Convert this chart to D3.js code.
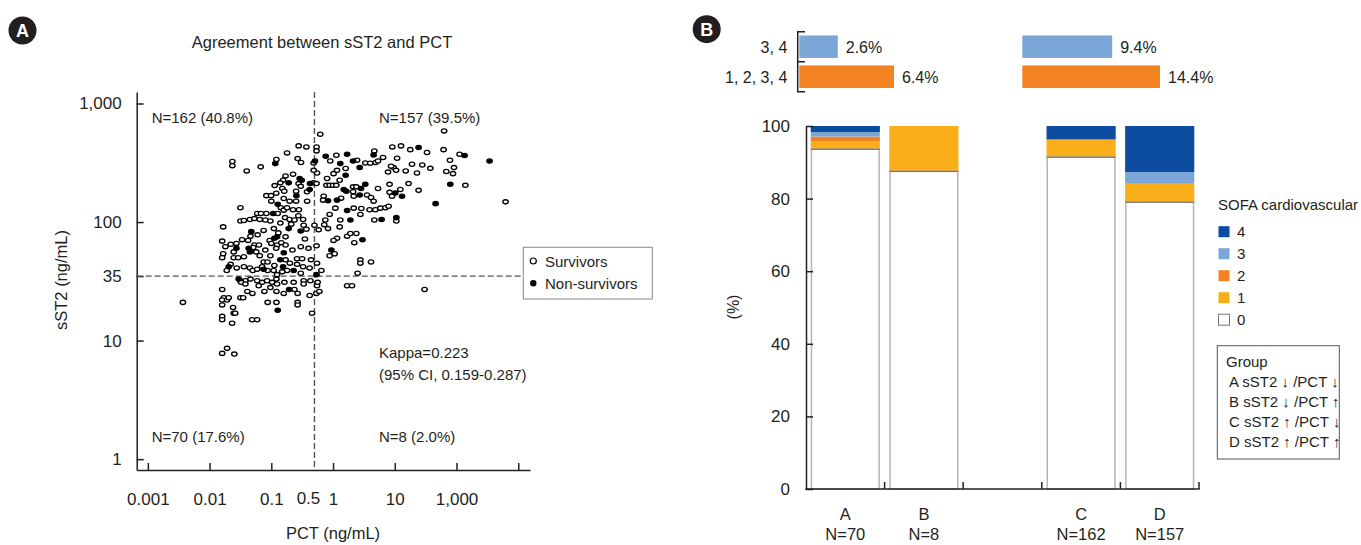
<!DOCTYPE html>
<html>
<head>
<meta charset="utf-8">
<script src="https://cdnjs.cloudflare.com/ajax/libs/d3/7.8.5/d3.min.js"></script>
<style>
  body { margin: 0; background: #fff; }
  svg text { font-family: "Liberation Sans", Arial, sans-serif; fill: #231f20; }
</style>
</head>
<body>
<svg id="chart" width="1361" height="545"></svg>
<script>
"use strict";

// ---- panel A data: [PCT ng/mL, sST2 ng/mL] ----
var survivors = [
  // sST2 high / PCT high
  [0.62,550],[63,587],[0.54,430],[0.54,398],[1.13,366],[4.66,398],[6.45,350],[9.12,430],[12.6,439],[17.8,408],[33.3,386],[61.7,408],[112,373],
  [0.90,327],[2.45,332],[3.33,315],[4.0,313],[4.89,318],[5.35,327],[10.9,345],[9.57,288],[8.7,296],[10.5,273],[7.77,264],[15.0,270],[19.0,307],[22.9,259],[27.9,303],[37.6,284],[68.3,267],[78.3,332],[91,288],[87.7,256],[139,204],[623,148],
  [0.485,315],[0.55,259],[0.485,273],[0.485,214],[0.54,211],[0.80,233],[0.78,204],[0.88,204],[1.0,204],[1.13,204],[1.28,225],[1.60,283],[1.02,256],[1.16,273],
  [2.11,198],[2.38,198],[2.11,180],[2.16,165],[3.55,169],[4.12,161],[4.54,150],[5.35,192],[8.24,208],[8.24,178],[9.02,165],[12.3,188],[16.7,211],[24.3,185],
  [0.705,165],[0.69,153],[1.35,159],[1.09,131],[2.16,131],[2.77,116],[2.87,130],[1.31,104],[1.28,91],[0.88,116],[0.75,104],[0.72,95],[0.83,88],[0.585,86],[0.50,94],
  [3.91,127],[4.84,127],[5.84,131],[7.03,132],[7.94,136],[4.66,104],[10.6,102],
  [2.21,67],[1.69,76],[1.91,80],[2.38,80],[1.16,73],[1.02,70],[0.88,52],[1.06,54],[2.77,48],[2.77,45],[4.12,46],[2.50,37],[0.647,39],[0.55,45],[0.54,63],
  // sST2 high / PCT low
  [0.277,439],[0.37,430],[0.18,383],[0.121,337],[0.267,343],[0.303,318],[0.0234,324],[0.0234,299],[0.040,270],[0.0673,292],
  [0.225,253],[0.17,245],[0.155,225],[0.140,214],[0.277,211],[0.1135,203],[0.151,192],[0.162,182],[0.252,182],[0.379,180],
  [0.0832,167],[0.099,167],[0.159,158],[0.198,150],[0.252,150],[0.143,132],[0.159,126],[0.18,132],[0.225,127],[0.28,127],
  [0.0316,132],[0.059,118],[0.068,118],[0.0832,118],[0.127,118],[0.167,109],[0.198,105],[0.237,104],[0.274,113],[0.327,105],[0.334,94],[0.37,87],
  [0.0166,91],[0.0316,102],[0.036,103],[0.045,105],[0.0532,107],[0.065,105],[0.080,104],[0.0966,102],
  [0.016,69],[0.018,62],[0.022,65],[0.0272,66],[0.0336,71],[0.042,70],[0.046,76],[0.0532,64],[0.063,64],[0.094,70],[0.13,81],[0.17,75],[0.124,64],[0.145,67],[0.17,64],
  [0.0166,54],[0.016,50],[0.0246,56],[0.0246,50],[0.029,50],[0.036,51],[0.051,61],[0.057,56],[0.065,52],[0.080,58],[0.0966,52],[0.0752,46],[0.087,46],[0.112,43],[0.17,48],[0.261,49],[0.315,49],[0.261,44],[0.327,42],[0.18,39],[0.15,38],
  [0.019,39],[0.0275,41],[0.036,42],[0.045,41],[0.050,39],[0.059,40],[0.071,42],[0.0873,39],[0.109,39],[0.124,36],[0.418,41],[0.44,48],
  [0.22,58],[0.30,62],[0.35,72],[0.40,60],[0.21,96],[0.14,98],[0.11,88],[0.075,85],[0.06,78],[0.10,150],[0.12,175],[0.30,200],[0.38,150],[0.12,60],[0.10,66],[0.30,37],[0.20,45],[0.022,44],
  // sST2 low / PCT low
  [0.0316,32],[0.038,32],[0.046,33],[0.059,32],[0.071,31],[0.0855,32],[0.103,31],[0.121,33],[0.0324,31],[0.038,30],[0.0625,29],[0.0966,28],[0.124,30],[0.163,31],[0.23,31],[0.334,32],[0.429,32],[0.334,30],
  [0.041,26],[0.0494,25],[0.0772,26],[0.121,26],[0.159,25],[0.237,27],[0.267,25],
  [0.016,27],[0.017,23],[0.016,22],[0.0192,22],[0.0204,23],[0.016,20],[0.024,19],[0.0246,17],[0.026,17],[0.0232,14],[0.016,16],[0.016,15],[0.0316,23],[0.035,23],[0.0489,15],[0.0589,15],[0.0873,21],[0.121,21],[0.267,21],[0.267,20],[0.418,24],[0.457,17],[0.0037,21],[0.016,7.8],[0.0192,8.6],[0.0252,7.7],
  // sST2 low / PCT high
  [0.55,29],[0.563,31],[0.537,25],[1.69,29],[2.03,29],[30.4,27],[0.6,26]
];

var nonSurvivors = [
  [0.76,359],[1.69,373],[4.54,368],[24.3,425],[135,364],[343,327],[0.51,327],[1.31,311],[2.11,327],[2.70,288],[1.60,248],[1.49,188],[1.64,182],[2.84,192],[3.33,208],[2.70,169],[10.2,176],[13.1,165],[0.83,151],[1.16,153],[1.69,125],[1.91,104],[6.12,105],[10.6,109],[3.0,71],[0.94,58],[0.54,36],[79.3,208],[45.8,143],
  [0.116,311],[0.288,233],[0.31,225],[0.191,214],[0.424,211],[0.255,167],[0.418,188],[0.127,141],[0.107,118],[0.191,88],[0.30,84],[0.0475,83],[0.112,73],[0.124,75],[0.0272,60],[0.043,60],[0.045,56],[0.140,48],[0.159,55],[0.155,42],[0.230,39],[0.075,40],[0.0204,42],
  [0.0296,33],[0.194,27],[0.127,18]
];

var pctTicks = [0.001, 0.01, 0.1, 1, 10, 100, 1000];
var pctTickLabels = ["0.001", "0.01", "0.1", "1", "10", "1,000", ""];
var sstTicks = [1, 10, 35, 100, 1000];
var sstTickLabels = ["1", "10", "35", "100", "1,000"];
var pctCutoff = 0.5;
var sstCutoff = 35;

// ---- panel B data ----
var groups = ["A", "B", "C", "D"];
var groupN = [70, 8, 162, 157];
var sofa0 = [93.6, 87.5, 91.4, 79.0];
var sofa1 = [2.1, 12.5, 4.9, 5.1];
var sofa2 = [1.4, 0, 0, 0];
var sofa3 = [1.2, 0, 0, 3.2];
var sofa4 = [1.7, 0, 3.7, 12.7];
var pctTicksB = [0, 20, 40, 60, 80, 100];

var topRows = ["3, 4", "1, 2, 3, 4"];
var topLow = [2.6, 6.4];    // groups A + B
var topHigh = [9.4, 14.4];  // groups C + D

var sofaKeys = ["s0", "s1", "s2", "s3", "s4"];
var sofaColors = { s0: "#ffffff", s1: "#f9ae1a", s2: "#f28222", s3: "#7ba6d8", s4: "#0d4da0" };
var legendRows = [["s4", "4"], ["s3", "3"], ["s2", "2"], ["s1", "1"], ["s0", "0"]];
var groupLegend = ["A sST2 \u2193 /PCT \u2193", "B sST2 \u2193 /PCT \u2191", "C sST2 \u2191 /PCT \u2193", "D sST2 \u2191 /PCT \u2191"];

var svg = d3.select("#chart");
var ink = "#231f20";

function badge(cx, cy, letter) {
  svg.append("circle").attr("cx", cx).attr("cy", cy).attr("r", 14).attr("fill", ink);
  svg.append("text").attr("x", cx).attr("y", cy + 6.5).attr("text-anchor", "middle")
    .style("fill", "#fff").style("font-weight", "bold").style("font-size", "18px").text(letter);
}

// ================= Panel A =================
badge(22.5, 30.5, "A");

svg.append("text").attr("x", 322).attr("y", 48).attr("text-anchor", "middle")
  .style("font-size", "16.5px").text("Agreement between sST2 and PCT");

var x = d3.scaleLog().domain([0.00066, 1550]).range([136.7, 530]);
var y = d3.scaleLog().domain([0.81, 1250]).range([470, 92]);

var gx = svg.append("g")
  .attr("transform", "translate(0,470)")
  .call(d3.axisBottom(x).tickValues(pctTicks)
    .tickFormat(function(d, i) { return pctTickLabels[i]; })
    .tickSize(-7).tickSizeOuter(0).tickPadding(23));

var gy = svg.append("g")
  .attr("transform", "translate(136.7,0)")
  .call(d3.axisLeft(y).tickValues(sstTicks)
    .tickFormat(function(d, i) { return sstTickLabels[i]; })
    .tickSize(-7).tickSizeOuter(0).tickPadding(15));

[gx, gy].forEach(function(g) {
  g.attr("font-family", null).attr("font-size", null);
  g.selectAll("path, line").attr("stroke", ink).attr("stroke-width", 1.5);
  g.selectAll("text").style("font-size", "17px").attr("fill", null);
});

// extra "0.5" label for the cut-off
svg.append("text").attr("x", x(pctCutoff) - 6).attr("y", 504).attr("text-anchor", "middle")
  .style("font-size", "17px").text("0.5");

// cut-off lines
svg.append("line")
  .attr("x1", x(pctCutoff)).attr("x2", x(pctCutoff))
  .attr("y1", y(1250)).attr("y2", y(0.81))
  .attr("stroke", "#555").attr("stroke-width", 1.4).attr("stroke-dasharray", "6,3");
svg.append("line")
  .attr("x1", x(0.00066)).attr("x2", 523)
  .attr("y1", y(sstCutoff)).attr("y2", y(sstCutoff))
  .attr("stroke", "#555").attr("stroke-width", 1.4).attr("stroke-dasharray", "6,3");

// points
function drawPoints(data, fill) {
  svg.append("g").selectAll("ellipse")
    .data(data)
    .enter().append("ellipse")
    .attr("cx", function(d) { return x(d[0]); })
    .attr("cy", function(d) { return y(d[1]); })
    .attr("rx", 2.7).attr("ry", 2.1)
    .attr("fill", fill).attr("stroke", "#000").attr("stroke-width", 1.35);
}
drawPoints(survivors, "#fff");
drawPoints(nonSurvivors, "#000");

// quadrant notes
var notes = [
  [151.7, 123, "N=162 (40.8%)"], [379, 123, "N=157 (39.5%)"],
  [379, 358, "Kappa=0.223"], [379, 380, "(95% CI, 0.159-0.287)"],
  [151.7, 442, "N=70 (17.6%)"], [379, 442, "N=8 (2.0%)"]
];
svg.append("g").selectAll("text").data(notes).enter().append("text")
  .attr("x", function(d) { return d[0]; }).attr("y", function(d) { return d[1]; })
  .style("font-size", "15px").text(function(d) { return d[2]; });

// axis titles
svg.append("text").attr("x", 333).attr("y", 539).attr("text-anchor", "middle")
  .style("font-size", "16.5px").text("PCT (ng/mL)");
svg.append("text").attr("transform", "translate(67,280) rotate(-90)").attr("text-anchor", "middle")
  .style("font-size", "16.5px").text("sST2 (ng/mL)");

// legend
var lg = svg.append("g");
lg.append("rect").attr("x", 523.3).attr("y", 247.3).attr("width", 129).attr("height", 51.7)
  .attr("fill", "#fff").attr("stroke", "#888").attr("stroke-width", 1);
lg.append("ellipse").attr("cx", 533.3).attr("cy", 261).attr("rx", 3).attr("ry", 3)
  .attr("fill", "#fff").attr("stroke", "#000").attr("stroke-width", 1.2);
lg.append("ellipse").attr("cx", 533.3).attr("cy", 283.3).attr("rx", 3.2).attr("ry", 3.2)
  .attr("fill", "#000");
lg.append("text").attr("x", 545).attr("y", 266.7).style("font-size", "15px").text("Survivors");
lg.append("text").attr("x", 545).attr("y", 289).style("font-size", "15px").text("Non-survivors");

// ================= Panel B =================
badge(706.7, 29.2, "B");

// top summary bars
var yTop = d3.scaleBand().domain(topRows).range([31.7, 91.7]).paddingInner(0.25).paddingOuter(0.125);
var wLow = d3.scaleLinear().domain([0, 6.4]).range([0, 94.7]);
var wHigh = d3.scaleLinear().domain([0, 14.4]).range([0, 137.7]);
var topColors = ["#7ba6d8", "#f28222"];

function topBars(values, x0, w) {
  var g = svg.append("g");
  g.selectAll("rect").data(values).enter().append("rect")
    .attr("x", x0)
    .attr("y", function(d, i) { return yTop(topRows[i]); })
    .attr("width", function(d) { return w(d); })
    .attr("height", yTop.bandwidth())
    .attr("fill", function(d, i) { return topColors[i]; });
  g.selectAll("text").data(values).enter().append("text")
    .attr("x", function(d) { return x0 + w(d) + 8; })
    .attr("y", function(d, i) { return yTop(topRows[i]) + yTop.bandwidth() / 2 + 6; })
    .style("font-size", "16px")
    .text(function(d) { return d.toFixed(1) + "%"; });
}
topBars(topLow, 799.3, wLow);
topBars(topHigh, 1022.3, wHigh);

svg.append("g").selectAll("text").data(topRows).enter().append("text")
  .attr("x", 787.3)
  .attr("y", function(d) { return yTop(d) + yTop.bandwidth() / 2 + 6; })
  .attr("text-anchor", "end").style("font-size", "16px")
  .text(function(d) { return d; });

svg.append("path")
  .attr("d", "M805,31.7H797.7V91.7H805M797.7,61.7H805")
  .attr("fill", "none").attr("stroke", ink).attr("stroke-width", 1.5);

// stacked bars
var slots = ["A", "B", " ", "C", "D"];
var xb = d3.scaleBand().domain(slots).range([806, 1199]).paddingInner(0.12).paddingOuter(0.06);
var yb = d3.scaleLinear().domain([0, 100]).range([489, 126]);

var rows = groups.map(function(g, i) {
  return { group: g, s0: sofa0[i], s1: sofa1[i], s2: sofa2[i], s3: sofa3[i], s4: sofa4[i] };
});
var stacked = d3.stack().keys(sofaKeys)(rows);

var layers = svg.append("g").selectAll("g").data(stacked).enter().append("g")
  .attr("fill", function(d) { return sofaColors[d.key]; });
layers.selectAll("rect").data(function(d) { return d; }).enter().append("rect")
  .attr("x", function(d) { return xb(d.data.group); })
  .attr("y", function(d) { return yb(d[1]); })
  .attr("width", xb.bandwidth())
  .attr("height", function(d) { return yb(d[0]) - yb(d[1]); });

// outline of the white (score 0) part
var base = stacked[0];
svg.append("g").selectAll("rect").data(base).enter().append("rect")
  .attr("x", function(d) { return xb(d.data.group) + 0.75; })
  .attr("y", function(d) { return yb(d[1]); })
  .attr("width", xb.bandwidth() - 1.5)
  .attr("height", function(d) { return yb(d[0]) - yb(d[1]); })
  .attr("fill", "none").attr("stroke", "#b5b5b5").attr("stroke-width", 1.5);
svg.append("g").selectAll("line").data(base).enter().append("line")
  .attr("x1", function(d) { return xb(d.data.group); })
  .attr("x2", function(d) { return xb(d.data.group) + xb.bandwidth(); })
  .attr("y1", function(d) { return yb(d[1]); })
  .attr("y2", function(d) { return yb(d[1]); })
  .attr("stroke", "#6d6d6d").attr("stroke-width", 1);

// y axis
var gyb = svg.append("g").attr("transform", "translate(806,0)")
  .call(d3.axisLeft(yb).tickValues(pctTicksB).tickSize(-7).tickSizeOuter(0).tickPadding(16));
gyb.attr("font-family", null).attr("font-size", null);
gyb.selectAll("path, line").attr("stroke", ink).attr("stroke-width", 1.5);
gyb.selectAll("text").style("font-size", "17px").attr("fill", null);

// x axis line with slot boundary ticks
svg.append("line").attr("x1", 805.3).attr("x2", 1199.7).attr("y1", yb(0)).attr("y2", yb(0))
  .attr("stroke", ink).attr("stroke-width", 1.5);
svg.append("g").selectAll("line").data(slots).enter().append("line")
  .attr("x1", function(d) { return xb(d) - xb.step() * xb.paddingInner() / 2 + xb.step(); })
  .attr("x2", function(d) { return xb(d) - xb.step() * xb.paddingInner() / 2 + xb.step(); })
  .attr("y1", yb(0)).attr("y2", yb(0) - 7)
  .attr("stroke", ink).attr("stroke-width", 1.5);

var xl = svg.append("g").selectAll("g").data(groups).enter().append("g")
  .attr("transform", function(d) { return "translate(" + (xb(d) + xb.bandwidth() / 2) + ",0)"; });
xl.append("text").attr("y", 520).attr("text-anchor", "middle").style("font-size", "16.5px")
  .text(function(d) { return d; });
xl.append("text").attr("y", 540).attr("text-anchor", "middle").style("font-size", "16.5px")
  .text(function(d, i) { return "N=" + groupN[i]; });

svg.append("text").attr("transform", "translate(739,307) rotate(-90)").attr("text-anchor", "middle")
  .style("font-size", "16px").text("(%)");

// SOFA legend
svg.append("text").attr("x", 1218).attr("y", 210).style("font-size", "15px").text("SOFA cardiovascular");
var lr = svg.append("g").selectAll("g").data(legendRows).enter().append("g")
  .attr("transform", function(d, i) { return "translate(1218," + (231.7 + i * 22) + ")"; });
lr.append("rect").attr("x", 0.5).attr("y", -5.5).attr("width", 11).attr("height", 11)
  .attr("fill", function(d) { return sofaColors[d[0]]; })
  .attr("stroke", function(d) { return d[0] === "s0" ? "#777" : "none"; });
lr.append("text").attr("x", 19).attr("y", 5.5).style("font-size", "15px").text(function(d) { return d[1]; });

// group key box
svg.append("rect").attr("x", 1217.3).attr("y", 345.7).attr("width", 122).attr("height", 113.3)
  .attr("fill", "#fff").attr("stroke", "#555").attr("stroke-width", 1);
svg.append("text").attr("x", 1226).attr("y", 366.7).style("font-size", "15px").text("Group");
svg.append("g").selectAll("text").data(groupLegend).enter().append("text")
  .attr("x", 1229).attr("y", function(d, i) { return 386.7 + i * 20; })
  .style("font-size", "15px").text(function(d) { return d; });
</script>
</body>
</html>
